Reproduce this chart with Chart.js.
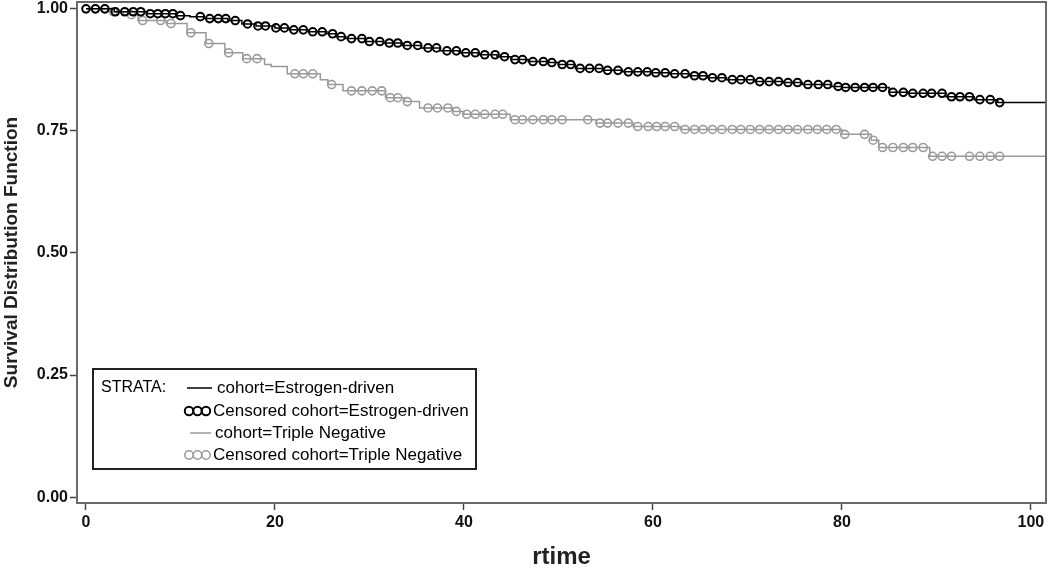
<!DOCTYPE html>
<html>
<head>
<meta charset="utf-8">
<script src="https://cdn.jsdelivr.net/npm/chart.js@4.4.0/dist/chart.umd.min.js"></script>
<style>
  html, body { margin: 0; padding: 0; background: #fff; }
  #wrap { width: 1050px; height: 572px; }
</style>
</head>
<body>
<div id="wrap"><canvas id="kmChart"></canvas></div>
<script>
// --- Kaplan-Meier steps: cohort=Estrogen-driven ---
const estrogenTimes = [0, 3, 6.5, 9.5, 11, 12.5, 15, 16.5, 18, 20, 21.5, 23.5, 25.5, 26.5, 27.5, 29.5, 31.5, 33.5, 35.5, 37.5, 39.5,
  41.5, 43.5, 45, 46.8, 49, 50, 51.8, 54.8, 56.8, 59.8, 61.8, 63.8, 65.8, 67.8, 70.8, 73.8, 75.8, 78.8, 80, 85, 87, 91, 94, 96.5, 101.6];
const estrogenSurv = [1.0, 0.994, 0.99, 0.986, 0.984, 0.98, 0.976, 0.969, 0.965, 0.961, 0.957, 0.953, 0.949, 0.943, 0.939, 0.933, 0.93, 0.925, 0.92, 0.914, 0.91,
  0.906, 0.902, 0.896, 0.892, 0.89, 0.886, 0.878, 0.874, 0.871, 0.869, 0.867, 0.863, 0.859, 0.855, 0.851, 0.849, 0.845, 0.841, 0.839, 0.829, 0.827, 0.82, 0.814, 0.808, 0.808];
// censored times (circles)
const estrogenCensor = [0, 1, 2, 3.1, 4.1, 5, 5.8, 6.8, 7.6, 8.4, 9.2, 10, 12.1, 13.1, 14, 14.8, 15.8, 17.1, 18.2, 19, 20.1, 21, 22, 23, 24, 25,
  26.1, 27, 28.1, 29.2, 30, 31.1, 32.1, 33, 34, 35.1, 36.2, 37.1, 38.2, 39.2, 40.2, 41.2, 42.2, 43.3, 44.3, 45.4, 46.2, 47.3, 48.4, 49.3,
  50.4, 51.3, 52.3, 53.3, 54.3, 55.2, 56.3, 57.4, 58.4, 59.4, 60.3, 61.3, 62.3, 63.4, 64.4, 65.3, 66.3, 67.3, 68.4, 69.3, 70.3, 71.3, 72.3,
  73.3, 74.3, 75.3, 76.4, 77.5, 78.5, 79.6, 80.4, 81.4, 82.4, 83.3, 84.3, 85.4, 86.5, 87.5, 88.6, 89.5, 90.6, 91.6, 92.5, 93.5, 94.6, 95.7, 96.7];

// --- Kaplan-Meier steps: cohort=Triple Negative ---
const tripleTimes = [0, 2.5, 4, 5.5, 8.5, 10.7, 12.7, 14.7, 16.6, 18.9, 19.6, 21.3, 24.8, 25.6, 27.2, 31.7, 33.7, 35.3, 38.8, 40, 44.9,
  54, 57.9, 62.9, 80, 83.1, 83.9, 89.3, 101.6];
const tripleSurv = [1.0, 0.994, 0.988, 0.976, 0.97, 0.951, 0.929, 0.91, 0.898, 0.886, 0.882, 0.867, 0.855, 0.845, 0.832, 0.818, 0.81, 0.797, 0.79, 0.784, 0.773,
  0.766, 0.759, 0.753, 0.743, 0.731, 0.716, 0.698, 0.698];
const tripleCensor = [1, 2, 2.9, 4.8, 6, 7.9, 9, 11.1, 13, 15.1, 17, 18.1, 22.1, 23, 24, 26, 28.1, 29.2, 30.3, 31.3, 32.2, 33, 34,
  36.2, 37.2, 38.3, 39.2, 40.3, 41.2, 42.2, 43.3, 44.1, 45.4, 46.2, 47.3, 48.4, 49.3, 50.4, 53.1, 54.4, 55.2, 56.3, 57.4, 58.4, 59.5,
  60.4, 61.3, 62.3, 63.4, 64.4, 65.3, 66.3, 67.3, 68.4, 69.3, 70.3, 71.3, 72.3, 73.3, 74.3, 75.3, 76.4, 77.4, 78.4, 79.4, 80.3, 82.4,
  83.3, 84.3, 85.4, 86.5, 87.5, 88.6, 89.6, 90.6, 91.6, 93.5, 94.6, 95.7, 96.7];

const xTicks = [0, 20, 40, 60, 80, 100];
const yTicks = [0, 0.25, 0.5, 0.75, 1];

const BLACK = '#000000';
const GRAY = '#9a9a9a';
const FONT = "'Liberation Sans', Arial, sans-serif";

// survival value at time t (step function lookup)
function survAt(times, surv, t) {
  let s = surv[0];
  for (let i = 0; i < times.length; i++) {
    if (times[i] <= t) s = surv[i];
  }
  return s;
}

function stepPoints(times, surv) {
  return times.map((t, i) => ({ x: t, y: surv[i] }));
}

function censorPoints(censor, times, surv) {
  return censor.map(t => ({ x: t, y: survAt(times, surv, t) }));
}

// --- frame + STRATA legend ---
const framePlugin = {
  id: 'frame',
  afterDraw(chart) {
    const { ctx, chartArea: a } = chart;
    ctx.save();
    ctx.strokeStyle = '#6a6a6a';
    ctx.lineWidth = 2;
    ctx.strokeRect(a.left, a.top, a.right - a.left, a.bottom - a.top);
    ctx.restore();
  }
};

const strataLegend = {
  id: 'strataLegend',
  afterDraw(chart) {
    const { ctx, chartArea: a } = chart;
    const bx = a.left + 16, by = a.bottom - 134, bw = 383, bh = 100;
    const rows = [by + 19, by + 42, by + 64, by + 86];

    ctx.save();
    ctx.strokeStyle = '#222';
    ctx.lineWidth = 2;
    ctx.strokeRect(bx, by, bw, bh);

    ctx.beginPath();
    ctx.rect(bx, by, bw - 1, bh);
    ctx.clip();

    ctx.fillStyle = '#000';
    ctx.font = '16px ' + FONT;
    ctx.textBaseline = 'middle';
    ctx.fillText('STRATA:', bx + 8, rows[0]);

    // line samples
    ctx.lineWidth = 1.5;
    ctx.strokeStyle = BLACK;
    ctx.beginPath(); ctx.moveTo(bx + 94, rows[0]); ctx.lineTo(bx + 119, rows[0]); ctx.stroke();
    ctx.strokeStyle = GRAY;
    ctx.beginPath(); ctx.moveTo(bx + 97, rows[2]); ctx.lineTo(bx + 118, rows[2]); ctx.stroke();

    // circle samples
    [[BLACK, 2, rows[1]], [GRAY, 1.5, rows[3]]].forEach(([c, w, y]) => {
      ctx.strokeStyle = c;
      ctx.lineWidth = w;
      for (let k = 0; k < 3; k++) {
        ctx.beginPath();
        ctx.arc(bx + 96 + k * 8.5, y, 4.2, 0, Math.PI * 2);
        ctx.stroke();
      }
    });

    ctx.font = '17px ' + FONT;
    ctx.fillText('cohort=Estrogen-driven', bx + 124, rows[0]);
    ctx.fillText('Censored cohort=Estrogen-driven', bx + 120, rows[1]);
    ctx.fillText('cohort=Triple Negative', bx + 122, rows[2]);
    ctx.fillText('Censored cohort=Triple Negative', bx + 120, rows[3]);
    ctx.restore();
  }
};

const ctx = document.getElementById('kmChart').getContext('2d');

new Chart(ctx, {
  type: 'scatter',
  data: {
    datasets: [
      {
        label: 'Censored cohort=Estrogen-driven',
        data: censorPoints(estrogenCensor, estrogenTimes, estrogenSurv),
        pointStyle: 'circle',
        pointRadius: 3.8,
        pointBorderWidth: 2,
        borderColor: BLACK,
        backgroundColor: 'rgba(0,0,0,0)'
      },
      {
        label: 'cohort=Estrogen-driven',
        data: stepPoints(estrogenTimes, estrogenSurv),
        showLine: true,
        stepped: true,
        pointRadius: 0,
        borderColor: BLACK,
        borderWidth: 1.5
      },
      {
        label: 'Censored cohort=Triple Negative',
        data: censorPoints(tripleCensor, tripleTimes, tripleSurv),
        pointStyle: 'circle',
        pointRadius: 4,
        pointBorderWidth: 1.6,
        borderColor: GRAY,
        backgroundColor: 'rgba(0,0,0,0)'
      },
      {
        label: 'cohort=Triple Negative',
        data: stepPoints(tripleTimes, tripleSurv),
        showLine: true,
        stepped: true,
        pointRadius: 0,
        borderColor: GRAY,
        borderWidth: 1.5
      }
    ]
  },
  options: {
    responsive: true,
    maintainAspectRatio: false,
    animation: false,
    layout: { autoPadding: false, padding: { top: 2, right: 4, left: 0, bottom: 0 } },
    plugins: {
      legend: { display: false },
      tooltip: { enabled: false }
    },
    scales: {
      x: {
        type: 'linear',
        min: -0.95,
        max: 101.6,
        afterBuildTicks: s => { s.ticks = xTicks.map(v => ({ value: v })); },
        afterFit: s => { s.height = 69; s.paddingLeft = 0; s.paddingRight = 0; },
        border: { display: false },
        grid: { drawOnChartArea: false, drawTicks: true, tickLength: 7, tickWidth: 1.5, color: '#444' },
        ticks: {
          padding: 3,
          color: '#111',
          font: { family: FONT, size: 16, weight: 'bold' },
          callback: v => String(v)
        },
        title: {
          display: true,
          text: 'rtime',
          color: '#222',
          padding: 0,
          font: { family: FONT, size: 24, weight: 'bold' }
        }
      },
      y: {
        type: 'linear',
        min: -0.012,
        max: 1.014,
        afterBuildTicks: s => { s.ticks = yTicks.map(v => ({ value: v })); },
        afterFit: s => { s.width = 77; s.paddingTop = 0; s.paddingBottom = 0; },
        border: { display: false },
        grid: { drawOnChartArea: false, drawTicks: true, tickLength: 7, tickWidth: 1.5, color: '#444' },
        ticks: {
          padding: 2,
          color: '#111',
          font: { family: FONT, size: 16, weight: 'bold' },
          callback: v => Number(v).toFixed(2)
        },
        title: {
          display: true,
          text: 'Survival Distribution Function',
          color: '#222',
          padding: 0,
          font: { family: FONT, size: 19, weight: 'bold' }
        }
      }
    }
  },
  plugins: [framePlugin, strataLegend]
});
</script>
</body>
</html>
